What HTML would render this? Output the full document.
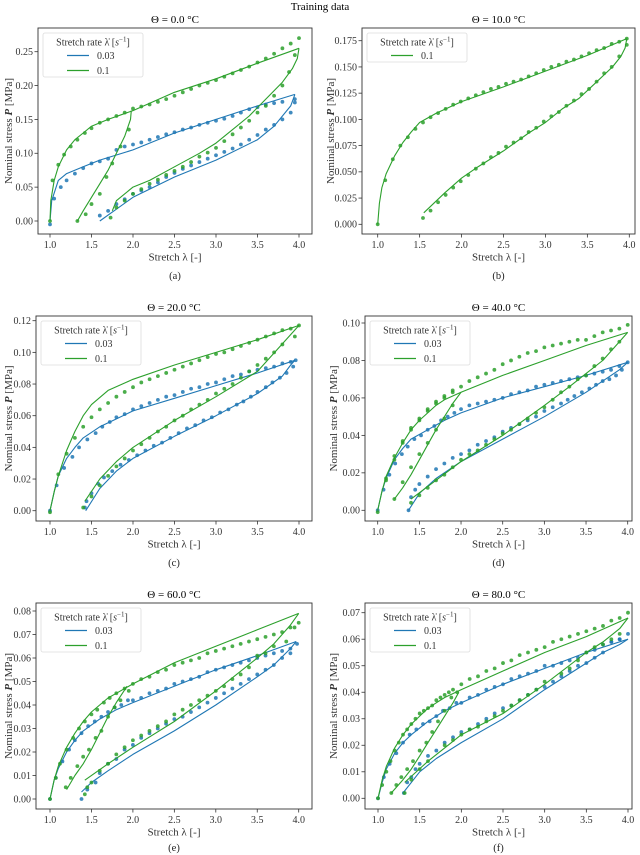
<!DOCTYPE html>
<html><head><meta charset="utf-8"><style>
html,body{margin:0;padding:0;background:#fff;}
svg{display:block;font-family:"Liberation Serif",serif;}
</style></head><body>
<svg id="fig" width="640" height="855" viewBox="0 0 640 855" xmlns="http://www.w3.org/2000/svg">
<text x="320" y="10" font-size="11" text-anchor="middle">Training data</text>
</svg>
<script>
// ---------- DATA ----------
const stretchTicks = [1.0,1.5,2.0,2.5,3.0,3.5,4.0];
const yTicksA = [0,0.05,0.10,0.15,0.20,0.25];
const yTicksB = [0,0.025,0.05,0.075,0.1,0.125,0.15,0.175];
const yTicksC = [0,0.02,0.04,0.06,0.08,0.10,0.12];
const yTicksD = [0,0.02,0.04,0.06,0.08,0.10];
const yTicksE = [0,0.01,0.02,0.03,0.04,0.05,0.06,0.07,0.08];
const yTicksF = [0,0.01,0.02,0.03,0.04,0.05,0.06,0.07];
const temperatures = ["0.0","10.0","20.0","40.0","60.0","80.0"];
const rateLabels = ["0.03","0.1"];

// Panel A (0 C)
const aGreenModel = [[[1,0],[1.01,0.03],[1.05,0.06],[1.1,0.08],[1.2,0.105],[1.3,0.12],[1.4,0.13],[1.5,0.14],[1.7,0.15],[2,0.163],[2.5,0.19],[3,0.21],[3.5,0.233],[4,0.255]],
 [[1.98,0.163],[1.97,0.15],[1.9,0.125],[1.8,0.1],[1.7,0.075],[1.6,0.055],[1.5,0.035],[1.4,0.015],[1.33,0]],
 [[4,0.255],[3.98,0.24],[3.92,0.225],[3.8,0.205],[3.6,0.18],[3.4,0.155],[3.2,0.135],[3,0.115],[2.8,0.1],[2.5,0.08],[2.2,0.06],[2,0.05],[1.8,0.03],[1.75,0.015]]];
const aGreenData = [[1,0],[1.03,0.06],[1.1,0.083],[1.17,0.098],[1.25,0.11],[1.33,0.12],[1.42,0.13],[1.5,0.137],[1.6,0.145],[1.7,0.15],[1.8,0.155],[1.9,0.16],[2,0.166],[2.1,0.169],[2.2,0.172],[2.3,0.176],[2.4,0.18],[2.5,0.185],[2.6,0.19],[2.7,0.195],[2.8,0.2],[2.9,0.204],[3,0.208],[3.1,0.213],[3.2,0.218],[3.3,0.223],[3.4,0.228],[3.5,0.234],[3.6,0.24],[3.7,0.247],[3.8,0.255],[3.9,0.262],[4,0.27],
 [1.95,0.135],[1.85,0.11],[1.75,0.085],[1.68,0.065],[1.6,0.04],[1.5,0.025],[1.43,0.01],[1.33,0],
 [3.95,0.245],[3.88,0.22],[3.8,0.2],[3.7,0.185],[3.6,0.17],[3.5,0.16],[3.4,0.148],[3.3,0.138],[3.2,0.128],[3.1,0.118],[3,0.108],[2.9,0.101],[2.8,0.095],[2.7,0.087],[2.6,0.08],[2.5,0.074],[2.4,0.068],[2.3,0.061],[2.2,0.055],[2.1,0.047],[2,0.04],[1.9,0.03],[1.8,0.02],[1.73,0.005]];
const aBlueModel = [[[1,0],[1.02,0.03],[1.1,0.06],[1.2,0.07],[1.4,0.08],[1.6,0.09],[2,0.105],[2.5,0.13],[3,0.15],[3.5,0.17],[3.95,0.187]],
 [[3.95,0.187],[3.9,0.17],[3.7,0.14],[3.5,0.12],[3,0.09],[2.5,0.065],[2,0.035],[1.6,0]]];
const aBlueData = [[1,-0.005],[1.05,0.033],[1.13,0.05],[1.2,0.06],[1.3,0.07],[1.4,0.078],[1.5,0.085],[1.6,0.088],[1.7,0.092],[1.8,0.105],[1.9,0.11],[2,0.113],[2.1,0.116],[2.2,0.12],[2.3,0.124],[2.4,0.128],[2.5,0.131],[2.6,0.135],[2.7,0.138],[2.8,0.142],[2.9,0.145],[3,0.148],[3.1,0.151],[3.2,0.155],[3.3,0.16],[3.4,0.165],[3.5,0.168],[3.6,0.172],[3.7,0.174],[3.8,0.176],[3.95,0.18],
 [3.95,0.175],[3.9,0.16],[3.8,0.15],[3.7,0.142],[3.6,0.135],[3.5,0.127],[3.4,0.12],[3.3,0.113],[3.2,0.107],[3.1,0.102],[3,0.097],[2.9,0.092],[2.8,0.087],[2.7,0.082],[2.6,0.077],[2.5,0.071],[2.4,0.065],[2.3,0.057],[2.2,0.05],[2.1,0.045],[2,0.04],[1.9,0.032],[1.8,0.025],[1.7,0.015],[1.6,0.008]];

// Panel B (10 C)
const bGreenModel = [[[1,0],[1.02,0.02],[1.05,0.035],[1.1,0.048],[1.2,0.065],[1.3,0.078],[1.4,0.088],[1.5,0.097],[1.7,0.106],[2,0.117],[2.5,0.131],[3,0.146],[3.5,0.161],[3.97,0.177]],
 [[3.97,0.177],[3.95,0.168],[3.9,0.16],[3.8,0.15],[3.6,0.135],[3.4,0.12],[3.2,0.11],[3,0.097],[2.8,0.087],[2.5,0.07],[2.2,0.055],[2,0.044],[1.8,0.03],[1.55,0.011]]];
const bGreenData = [[1,0],[1.09,0.042],[1.18,0.062],[1.27,0.075],[1.36,0.083],[1.45,0.091],[1.54,0.097],[1.63,0.102],[1.72,0.106],[1.81,0.11],[1.9,0.114],[1.99,0.117],[2.08,0.12],[2.17,0.123],[2.26,0.126],[2.35,0.129],[2.44,0.131],[2.53,0.134],[2.62,0.136],[2.71,0.138],[2.8,0.141],[2.89,0.144],[2.98,0.147],[3.07,0.15],[3.16,0.152],[3.25,0.155],[3.34,0.157],[3.43,0.16],[3.52,0.163],[3.61,0.166],[3.7,0.168],[3.79,0.172],[3.88,0.174],[3.97,0.177],
 [3.97,0.171],[3.88,0.16],[3.79,0.15],[3.7,0.144],[3.61,0.136],[3.52,0.129],[3.43,0.124],[3.34,0.118],[3.25,0.113],[3.16,0.107],[3.07,0.103],[2.98,0.098],[2.89,0.092],[2.8,0.088],[2.71,0.082],[2.62,0.078],[2.53,0.074],[2.44,0.068],[2.35,0.064],[2.26,0.058],[2.17,0.053],[2.08,0.047],[1.99,0.041],[1.9,0.035],[1.81,0.028],[1.72,0.021],[1.63,0.013],[1.54,0.006]];

// Panel C (20 C)
const cGreenModel = [[[1,0],[1.05,0.012],[1.1,0.022],[1.2,0.038],[1.3,0.05],[1.4,0.06],[1.5,0.067],[1.7,0.076],[2,0.083],[2.5,0.092],[3,0.1],[3.5,0.108],[4,0.117]],
 [[4,0.117],[3.5,0.088],[3,0.072],[2.5,0.057],[2,0.04],[1.8,0.031],[1.6,0.02],[1.42,0.006]]];
const cGreenData = [[1,-0.001],[1.1,0.023],[1.2,0.036],[1.3,0.046],[1.4,0.053],[1.5,0.059],[1.6,0.064],[1.7,0.068],[1.8,0.072],[1.9,0.075],[2,0.078],[2.1,0.081],[2.2,0.083],[2.3,0.085],[2.4,0.087],[2.5,0.089],[2.6,0.091],[2.7,0.093],[2.8,0.095],[2.9,0.097],[3,0.099],[3.1,0.1],[3.2,0.102],[3.3,0.104],[3.4,0.106],[3.5,0.108],[3.6,0.11],[3.7,0.112],[3.8,0.114],[3.9,0.115],[4,0.117],
 [3.95,0.11],[3.8,0.105],[3.7,0.1],[3.6,0.096],[3.5,0.092],[3.4,0.088],[3.3,0.084],[3.2,0.08],[3.1,0.077],[3,0.074],[2.9,0.07],[2.8,0.067],[2.7,0.064],[2.6,0.06],[2.5,0.057],[2.4,0.053],[2.3,0.05],[2.2,0.046],[2.1,0.042],[2,0.038],[1.9,0.033],[1.8,0.028],[1.7,0.022],[1.6,0.016],[1.5,0.009],[1.4,0.002]];
const cBlueModel = [[[1,0],[1.05,0.012],[1.1,0.022],[1.2,0.033],[1.3,0.04],[1.4,0.046],[1.6,0.053],[1.8,0.058],[2,0.063],[2.5,0.071],[3,0.079],[3.5,0.087],[3.95,0.095]],
 [[3.95,0.095],[3.9,0.092],[3.8,0.085],[3.5,0.074],[3,0.06],[2.5,0.047],[2,0.033],[1.8,0.025],[1.6,0.014],[1.43,0]]];
const cBlueData = [[1,0],[1.08,0.016],[1.17,0.027],[1.27,0.034],[1.35,0.04],[1.45,0.045],[1.55,0.049],[1.63,0.053],[1.72,0.056],[1.8,0.059],[1.9,0.061],[2,0.064],[2.1,0.066],[2.2,0.068],[2.3,0.07],[2.4,0.072],[2.5,0.073],[2.6,0.075],[2.7,0.077],[2.8,0.078],[2.9,0.08],[3,0.081],[3.1,0.083],[3.2,0.085],[3.3,0.086],[3.4,0.088],[3.5,0.089],[3.6,0.09],[3.7,0.091],[3.8,0.093],[3.9,0.094],[3.96,0.095],
 [3.93,0.091],[3.85,0.087],[3.77,0.084],[3.68,0.081],[3.6,0.078],[3.5,0.075],[3.42,0.072],[3.33,0.069],[3.25,0.067],[3.15,0.064],[3.05,0.062],[2.95,0.059],[2.85,0.057],[2.75,0.054],[2.65,0.052],[2.55,0.049],[2.45,0.046],[2.35,0.043],[2.25,0.041],[2.15,0.038],[2.05,0.035],[1.95,0.032],[1.85,0.029],[1.75,0.025],[1.65,0.021],[1.58,0.017],[1.5,0.011],[1.44,0.006],[1.42,0.002]];

// Panel D (40 C)
const dGreenModel = [[[1,0],[1.05,0.01],[1.1,0.018],[1.2,0.028],[1.3,0.036],[1.4,0.043],[1.5,0.048],[1.6,0.052],[1.7,0.056],[1.8,0.059],[2,0.063],[2.5,0.072],[3,0.08],[3.5,0.088],[4,0.095]],
 [[2,0.063],[1.9,0.057],[1.8,0.05],[1.7,0.043],[1.6,0.035],[1.5,0.027],[1.4,0.019],[1.3,0.012],[1.2,0.006]],
 [[4,0.095],[3.9,0.09],[3.7,0.08],[3.5,0.073],[3.3,0.066],[3,0.056],[2.5,0.04],[2,0.026],[1.7,0.016],[1.4,0.006]]];
const dGreenData = [[1,-0.001],[1.1,0.017],[1.2,0.029],[1.3,0.037],[1.4,0.043],[1.5,0.048],[1.6,0.053],[1.7,0.057],[1.8,0.06],[1.9,0.063],[2,0.066],[2.1,0.069],[2.2,0.071],[2.3,0.073],[2.4,0.075],[2.5,0.078],[2.6,0.08],[2.7,0.082],[2.8,0.084],[2.9,0.085],[3,0.087],[3.1,0.088],[3.2,0.089],[3.3,0.09],[3.4,0.091],[3.5,0.091],[3.6,0.093],[3.7,0.095],[3.8,0.096],[3.9,0.097],[4,0.099],
 [1.1,0.016],[1.2,0.027],[1.3,0.036],[1.4,0.044],[1.5,0.049],[1.6,0.054],[1.7,0.058],[1.8,0.061],[1.9,0.064],
 [1.9,0.056],[1.8,0.049],[1.7,0.043],[1.6,0.036],[1.5,0.03],[1.4,0.023],[1.3,0.015],[1.2,0.006],
 [3.9,0.09],[3.8,0.086],[3.7,0.081],[3.6,0.077],[3.5,0.072],[3.4,0.07],[3.3,0.066],[3.2,0.063],[3.1,0.059],[3,0.055],[2.9,0.052],[2.8,0.049],[2.7,0.046],[2.6,0.043],[2.5,0.041],[2.4,0.038],[2.3,0.035],[2.2,0.032],[2.1,0.03],[2,0.027],[1.9,0.023],[1.8,0.019],[1.7,0.016],[1.6,0.012],[1.5,0.008],[1.4,0.004]];
const dBlueModel = [[[1,0],[1.05,0.01],[1.1,0.017],[1.2,0.027],[1.3,0.033],[1.4,0.038],[1.6,0.043],[1.8,0.048],[2,0.052],[2.5,0.06],[3,0.066],[3.5,0.072],[4,0.079]],
 [[4,0.079],[3.9,0.075],[3.7,0.069],[3.5,0.063],[3,0.05],[2.5,0.038],[2,0.026],[1.7,0.017],[1.5,0.009],[1.37,0]]];
const dBlueData = [[1,0],[1.07,0.011],[1.14,0.019],[1.21,0.025],[1.29,0.03],[1.36,0.034],[1.44,0.038],[1.52,0.04],[1.6,0.043],[1.68,0.045],[1.76,0.048],[1.84,0.05],[1.92,0.052],[2,0.054],[2.1,0.056],[2.2,0.057],[2.3,0.058],[2.4,0.059],[2.5,0.06],[2.6,0.062],[2.7,0.063],[2.8,0.064],[2.9,0.066],[3,0.067],[3.1,0.068],[3.2,0.069],[3.3,0.07],[3.4,0.071],[3.5,0.072],[3.6,0.073],[3.7,0.074],[3.8,0.075],[3.9,0.077],[4,0.079],
 [3.93,0.075],[3.86,0.072],[3.78,0.07],[3.7,0.069],[3.62,0.067],[3.54,0.065],[3.45,0.063],[3.36,0.061],[3.28,0.059],[3.2,0.057],[3.1,0.055],[3,0.053],[2.9,0.05],[2.8,0.048],[2.7,0.046],[2.6,0.044],[2.5,0.042],[2.4,0.039],[2.3,0.037],[2.2,0.035],[2.1,0.032],[2,0.03],[1.9,0.028],[1.8,0.025],[1.7,0.022],[1.6,0.018],[1.5,0.014],[1.45,0.011],[1.4,0.007],[1.37,0]];

// Panel E (60 C)
const eGreenModel = [[[1,0],[1.05,0.008],[1.1,0.014],[1.2,0.022],[1.3,0.028],[1.4,0.033],[1.5,0.037],[1.6,0.04],[1.7,0.043],[1.8,0.045],[2,0.049],[2.5,0.058],[3,0.065],[3.5,0.072],[4,0.079]],
 [[1.93,0.048],[1.8,0.041],[1.7,0.035],[1.6,0.028],[1.5,0.021],[1.4,0.015],[1.3,0.01],[1.2,0.004]],
 [[4,0.079],[3.9,0.074],[3.7,0.066],[3.5,0.06],[3,0.046],[2.5,0.033],[2,0.022],[1.7,0.015],[1.42,0.008]]];
const eGreenData = [[1,0],[1.07,0.009],[1.12,0.015],[1.2,0.021],[1.28,0.026],[1.35,0.03],[1.42,0.033],[1.5,0.036],[1.57,0.038],[1.65,0.041],[1.72,0.043],[1.8,0.045],[1.9,0.047],[2,0.049],[2.1,0.051],[2.2,0.052],[2.3,0.054],[2.4,0.055],[2.5,0.057],[2.6,0.058],[2.7,0.059],[2.8,0.06],[2.9,0.062],[3,0.063],[3.1,0.064],[3.2,0.065],[3.3,0.066],[3.4,0.067],[3.5,0.068],[3.6,0.069],[3.7,0.07],[3.8,0.071],[3.9,0.073],[4,0.075],
 [1.95,0.046],[1.85,0.042],[1.78,0.039],[1.7,0.035],[1.62,0.029],[1.55,0.026],[1.47,0.021],[1.4,0.018],[1.33,0.014],[1.25,0.009],[1.19,0.005],
 [3.95,0.073],[3.85,0.067],[3.7,0.065],[3.6,0.062],[3.5,0.061],[3.4,0.056],[3.3,0.053],[3.2,0.051],[3.1,0.048],[3,0.046],[2.9,0.044],[2.8,0.042],[2.7,0.04],[2.6,0.038],[2.5,0.036],[2.4,0.033],[2.3,0.031],[2.2,0.029],[2.1,0.027],[2,0.025],[1.9,0.022],[1.8,0.019],[1.7,0.015],[1.6,0.012],[1.5,0.007],[1.45,0.005],[1.42,0.002]];
const eBlueModel = [[[1,0],[1.05,0.008],[1.1,0.013],[1.2,0.02],[1.3,0.025],[1.4,0.029],[1.6,0.034],[1.8,0.038],[2,0.041],[2.5,0.048],[3,0.055],[3.5,0.061],[3.97,0.067]],
 [[3.97,0.067],[3.9,0.064],[3.7,0.057],[3.5,0.052],[3,0.04],[2.5,0.029],[2,0.019],[1.7,0.012],[1.5,0.007],[1.38,0.003]]];
const eBlueData = [[1,0],[1.07,0.009],[1.15,0.016],[1.23,0.021],[1.3,0.025],[1.38,0.028],[1.46,0.031],[1.54,0.033],[1.62,0.035],[1.7,0.037],[1.78,0.039],[1.86,0.04],[1.94,0.042],[2,0.042],[2.1,0.043],[2.2,0.045],[2.3,0.046],[2.4,0.047],[2.5,0.049],[2.6,0.05],[2.7,0.051],[2.8,0.052],[2.9,0.054],[3,0.055],[3.1,0.056],[3.2,0.057],[3.3,0.058],[3.4,0.059],[3.5,0.06],[3.6,0.061],[3.7,0.062],[3.8,0.063],[3.9,0.064],[3.98,0.066],
 [3.9,0.062],[3.8,0.06],[3.7,0.057],[3.6,0.055],[3.5,0.053],[3.4,0.051],[3.3,0.049],[3.2,0.047],[3.1,0.045],[3,0.043],[2.9,0.041],[2.8,0.039],[2.7,0.037],[2.6,0.035],[2.5,0.034],[2.4,0.032],[2.3,0.03],[2.2,0.028],[2.1,0.026],[2,0.023],[1.9,0.021],[1.8,0.017],[1.7,0.015],[1.6,0.011],[1.55,0.007],[1.45,0.004],[1.38,0]];

// Panel F (80 C)
const fGreenModel = [[[1,0],[1.05,0.007],[1.1,0.012],[1.2,0.019],[1.3,0.024],[1.4,0.028],[1.5,0.031],[1.6,0.034],[1.7,0.036],[1.8,0.038],[2,0.041],[2.5,0.048],[3,0.055],[3.5,0.061],[4,0.068]],
 [[1.97,0.04],[1.9,0.036],[1.8,0.031],[1.7,0.026],[1.6,0.021],[1.5,0.016],[1.4,0.011],[1.3,0.007],[1.16,0.002]],
 [[4,0.068],[3.9,0.064],[3.7,0.059],[3.5,0.055],[3,0.043],[2.5,0.032],[2,0.024],[1.8,0.019],[1.6,0.014],[1.32,0.006]]];
const fGreenData = [[1,0],[1.05,0.005],[1.1,0.01],[1.15,0.014],[1.2,0.018],[1.25,0.021],[1.3,0.024],[1.35,0.026],[1.4,0.028],[1.45,0.03],[1.5,0.032],[1.55,0.033],[1.6,0.034],[1.65,0.035],[1.7,0.037],[1.75,0.038],[1.8,0.039],[1.85,0.04],[1.9,0.041],[2,0.043],[2.1,0.045],[2.2,0.046],[2.3,0.048],[2.4,0.049],[2.5,0.051],[2.6,0.052],[2.7,0.054],[2.8,0.055],[2.9,0.056],[3,0.057],[3.1,0.059],[3.2,0.06],[3.3,0.061],[3.4,0.062],[3.5,0.063],[3.6,0.064],[3.7,0.065],[3.8,0.067],[3.9,0.068],[4,0.07],
 [1.95,0.04],[1.88,0.038],[1.8,0.033],[1.72,0.029],[1.65,0.025],[1.58,0.021],[1.5,0.018],[1.42,0.014],[1.35,0.011],[1.28,0.008],[1.22,0.005],[1.16,0.002],
 [3.9,0.062],[3.8,0.06],[3.7,0.058],[3.6,0.057],[3.5,0.055],[3.4,0.052],[3.3,0.049],[3.2,0.047],[3,0.044],[2.9,0.041],[2.8,0.039],[2.7,0.037],[2.6,0.035],[2.5,0.033],[2.4,0.031],[2.3,0.029],[2.2,0.027],[2.1,0.026],[2,0.024],[1.9,0.022],[1.8,0.02],[1.6,0.014],[1.5,0.011],[1.4,0.007],[1.32,0.002]];
const fBlueModel = [[[1,0],[1.05,0.006],[1.1,0.011],[1.2,0.017],[1.3,0.021],[1.4,0.024],[1.6,0.029],[1.8,0.033],[2,0.036],[2.5,0.043],[3,0.049],[3.5,0.055],[4,0.06]],
 [[4,0.06],[3.9,0.058],[3.7,0.055],[3.5,0.051],[3,0.041],[2.5,0.03],[2,0.021],[1.7,0.015],[1.5,0.01],[1.3,0.002]]];
const fBlueData = [[1,0],[1.07,0.008],[1.14,0.013],[1.22,0.017],[1.3,0.021],[1.38,0.024],[1.46,0.026],[1.54,0.028],[1.62,0.029],[1.7,0.031],[1.78,0.033],[1.86,0.034],[1.94,0.036],[2,0.036],[2.1,0.038],[2.2,0.039],[2.3,0.041],[2.4,0.042],[2.5,0.043],[2.6,0.045],[2.7,0.046],[2.8,0.047],[2.9,0.048],[3,0.05],[3.1,0.05],[3.2,0.051],[3.3,0.052],[3.4,0.053],[3.5,0.055],[3.6,0.056],[3.7,0.058],[3.8,0.059],[3.9,0.06],[4,0.062],
 [3.9,0.06],[3.8,0.059],[3.7,0.055],[3.6,0.053],[3.5,0.051],[3.4,0.05],[3.3,0.048],[3.2,0.046],[3.1,0.044],[3,0.042],[2.9,0.041],[2.8,0.039],[2.7,0.037],[2.6,0.035],[2.5,0.034],[2.4,0.032],[2.3,0.03],[2.2,0.028],[2.1,0.026],[2,0.025],[1.9,0.023],[1.8,0.021],[1.7,0.018],[1.6,0.016],[1.5,0.013],[1.45,0.011],[1.4,0.008],[1.35,0.006],[1.31,0.002]];

// ---------- RENDER ----------
const NS = "http://www.w3.org/2000/svg";
const svg = document.getElementById('fig');
const BLUE = "#1f77b4", GREEN = "#2ca02c";
function mk(tag, attrs, parent){
  const e = document.createElementNS(NS, tag);
  for (const k in attrs) e.setAttribute(k, attrs[k]);
  (parent||svg).appendChild(e);
  return e;
}
const panels = [
 {id:'a', L:38, R:312, T:28, B:234, x1:50, x4:299, y0:221, yTop:51.7, yTopV:0.25, ticks:yTicksA, dec:2, ylx:8, cap:279, temp:0,
  series:[{c:BLUE, model:aBlueModel, data:aBlueData},{c:GREEN, model:aGreenModel, data:aGreenData}], legend:[0,1]},
 {id:'b', L:362, R:635, T:28, B:234, x1:377.7, x4:629.3, y0:224.3, yTopV:0.175, yTop:40.7, ticks:yTicksB, dec:3, ylx:330, cap:279, temp:1,
  series:[{c:GREEN, model:bGreenModel, data:bGreenData}], legend:[1]},
 {id:'c', L:36, R:312, T:316, B:521, x1:50, x4:299, y0:510.7, yTopV:0.12, yTop:320.7, ticks:yTicksC, dec:2, ylx:8, cap:566, temp:2,
  series:[{c:BLUE, model:cBlueModel, data:cBlueData},{c:GREEN, model:cGreenModel, data:cGreenData}], legend:[0,1]},
 {id:'d', L:365, R:632, T:316, B:521, x1:377.7, x4:627.7, y0:510.3, yTopV:0.10, yTop:323, ticks:yTicksD, dec:2, ylx:333, cap:566, temp:3,
  series:[{c:BLUE, model:dBlueModel, data:dBlueData},{c:GREEN, model:dGreenModel, data:dGreenData}], legend:[0,1]},
 {id:'e', L:36, R:312, T:603, B:809, x1:50, x4:298.7, y0:799, yTopV:0.08, yTop:611, ticks:yTicksE, dec:2, ylx:8, cap:851, temp:4,
  series:[{c:BLUE, model:eBlueModel, data:eBlueData},{c:GREEN, model:eGreenModel, data:eGreenData}], legend:[0,1]},
 {id:'f', L:365, R:632, T:603, B:809, x1:378, x4:628, y0:798.3, yTopV:0.07, yTop:612.7, ticks:yTicksF, dec:2, ylx:333, cap:851, temp:5,
  series:[{c:BLUE, model:fBlueModel, data:fBlueData},{c:GREEN, model:fGreenModel, data:fGreenData}], legend:[0,1]}
];
panels.forEach(p=>{
  const xs = v => p.x1 + (v-1)*(p.x4-p.x1)/3;
  const ys = v => p.y0 - v*(p.y0-p.yTop)/p.yTopV;
  const g = mk('g', {});
  
  
  const cx = (p.L+p.R)/2;
  const t = mk('text', {x:cx, y:p.T-5, 'font-size':11, 'text-anchor':'middle'}, g);
  t.textContent = 'Θ = '+temperatures[p.temp]+' °C';
  
  
  stretchTicks.forEach(v=>{
    const x = xs(v);
    const tk = mk('line', {x1:x, x2:x, y1:p.B, y2:p.B+3.5, stroke:'#333', 'stroke-width':0.8}, g);
    
    
    const tl = mk('text', {x:x, y:p.B+14, 'font-size':10, 'text-anchor':'middle', fill:'#333'}, g);
    tl.textContent = v.toFixed(1);
    
    
  });
  p.ticks.forEach(v=>{
    const y = ys(v);
    const tk = mk('line', {x1:p.L-3.5, x2:p.L, y1:y, y2:y, stroke:'#333', 'stroke-width':0.8}, g);
    
    
    const tl = mk('text', {x:p.L-5, y:y+3.4, 'font-size':10, 'text-anchor':'end', fill:'#333'}, g);
    tl.textContent = v.toFixed(p.dec);
    
    
  });
  const xl = mk('text', {x:cx, y:p.B+26.5, 'font-size':11, 'text-anchor':'middle', fill:'#333'}, g);
  xl.textContent = 'Stretch λ [-]';
  
  
  const yc = (p.T+p.B)/2;
  const yl = mk('text', {x:p.ylx, y:yc, 'font-size':11, 'text-anchor':'middle', fill:'#333', transform:'rotate(-90 '+p.ylx+' '+yc+')', dy:'0.35em'}, g);
  yl.innerHTML = 'Nominal stress <tspan font-style="italic" font-weight="bold">P</tspan> [MPa]';
  
  
  const cap = mk('text', {x:cx, y:p.cap, 'font-size':10.5, 'text-anchor':'middle', fill:'#222'}, g);
  cap.textContent = '('+p.id+')';
  
  
  p.series.forEach(s=>{
    s.data.forEach(d=>{
      const c = mk('circle', {cx:xs(d[0]), cy:ys(d[1]), r:1.9, fill:s.c, 'fill-opacity':0.85}, g);
      
      
    });
    s.model.forEach(seg=>{
      const pl = mk('polyline', {points:seg.map(d=>xs(d[0]).toFixed(1)+','+ys(d[1]).toFixed(1)).join(' '), fill:'none', stroke:s.c, 'stroke-width':1.1, 'stroke-linejoin':'round'}, g);
      
      
    });
  });
  const fr = mk('rect', {x:p.L, y:p.T, width:p.R-p.L, height:p.B-p.T, fill:'none', stroke:'#333', 'stroke-width':0.9}, g);
  
  
  const lx = p.L+5, ly = p.T+5, lh = 14 + p.legend.length*15;
  const lg = mk('g', {}, g);
  
  
  mk('rect', {x:lx, y:ly, width:100, height:lh, rx:2, fill:'#fff', 'fill-opacity':0.85, stroke:'#ddd', 'stroke-width':0.8}, lg);
  const lt = mk('text', {x:lx+50, y:ly+12.5, 'font-size':10, 'text-anchor':'middle', fill:'#333'}, lg);
  lt.innerHTML = 'Stretch rate λ̇ [<tspan font-style="italic">s</tspan><tspan font-size="7" dy="-4">−1</tspan><tspan dy="4">]</tspan>';
  p.legend.forEach((si,i)=>{
    const yy = ly+26+i*15;
    const col = si===0?BLUE:GREEN;
    const ln = mk('line', {x1:lx+24, x2:lx+46, y1:yy-3.5, y2:yy-3.5, stroke:col, 'stroke-width':1.3}, lg);
    
    
    const tx = mk('text', {x:lx+54, y:yy, 'font-size':10, fill:'#333'}, lg);
    tx.textContent = rateLabels[si];
    
    
  });
});
</script>
</body></html>
